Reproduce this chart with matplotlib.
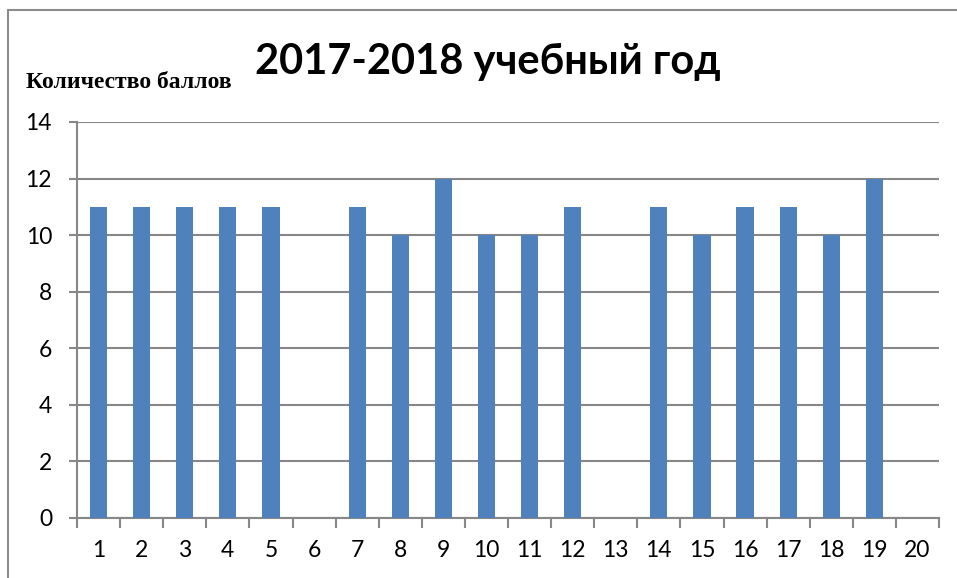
import matplotlib
matplotlib.use("Agg")
import matplotlib.pyplot as plt
from matplotlib.patches import Rectangle
import numpy as np

plt.rcParams["font.family"] = ["Lato", "DejaVu Sans"]
plt.rcParams["xtick.labelsize"] = 16.5
plt.rcParams["ytick.labelsize"] = 16.5

categories = [str(i) for i in range(1, 21)]
values = [11, 11, 11, 11, 11, 0, 11, 10, 12, 10, 10, 11, 0, 11, 10, 11, 11, 10, 12, 0]
yticks = [0, 2, 4, 6, 8, 10, 12, 14]
title = "2017-2018 учебный год"
ylabel = "Количество баллов"

W, H = 957, 578
fig = plt.figure(figsize=(W / 100, H / 100), dpi=100)
fig.patch.set_facecolor("white")

# outer chart border (cropped at right and bottom in the reference)
fig.add_artist(Rectangle((8 / W, -0.1), 1.2, (H - 10) / H + 0.1, transform=fig.transFigure,
                         fill=False, edgecolor="#8c8c8c", linewidth=1.5))

left, right, top, bottom = 77, 939, 122, 518
ax = fig.add_axes([left / W, 1 - bottom / H, (right - left) / W, (bottom - top) / H])

x = np.arange(len(categories))
ax.bar(x, values, width=0.4, color="#4F81BD", zorder=3)
ax.set_xlim(-0.5, len(categories) - 0.5)
ax.set_ylim(0, 14)
ax.set_yticks(yticks)
ax.set_xticks(x)
ax.set_xticklabels(categories)
ax.set_xticks(np.arange(-0.5, len(categories)), minor=True)
ax.tick_params(axis="x", which="major", length=0, pad=16)
ax.tick_params(axis="x", which="minor", length=7, width=1.5, color="#878787", direction="out")
ax.tick_params(axis="y", length=6, width=1.5, color="#878787", pad=12)
for lab in ax.get_xticklabels() + ax.get_yticklabels():
    lab.set_fontsize(16.5)

ax.grid(axis="y", color="#878787", linewidth=1.5, zorder=0)
for s in ["top", "right"]:
    ax.spines[s].set_visible(False)
ax.spines["left"].set_color("#878787")
ax.spines["left"].set_linewidth(1.5)
ax.spines["bottom"].set_color("#878787")
ax.spines["bottom"].set_linewidth(1.5)

fig.text(488 / W, 1 - 74 / H, title, ha="center", va="baseline", fontsize=30,
         fontweight="bold")
fig.text(26 / W, 1 - 88 / H, ylabel, ha="left", va="baseline", fontsize=17,
         fontweight="bold", family="Liberation Serif")

fig.savefig("out.png", dpi=100)
